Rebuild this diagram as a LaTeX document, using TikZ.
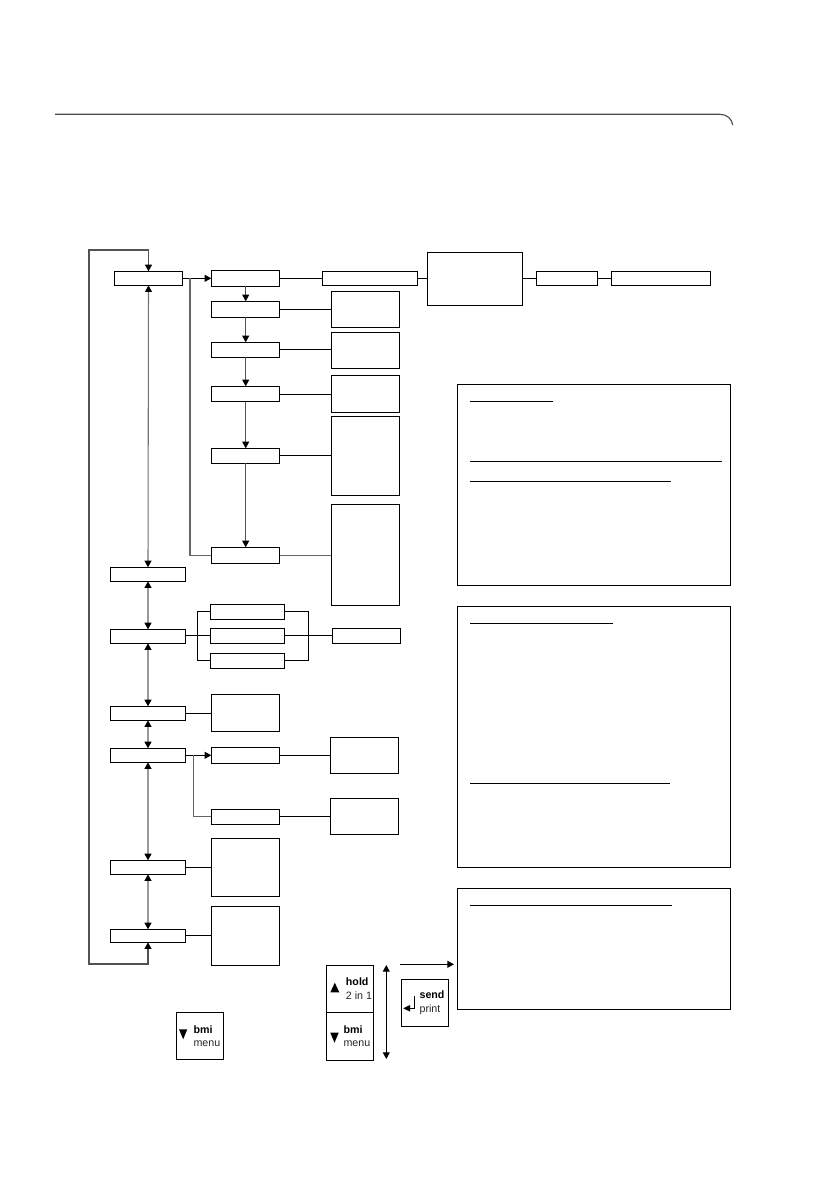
\documentclass[tikz,border=0pt]{standalone}
\usepackage{fontspec}
\setmainfont{Liberation Sans}
\usetikzlibrary{fit,arrows.meta}
\tikzset{
  x=0.75pt,y=-0.75pt,
  box/.style={draw=black,line width=0.85pt,inner sep=0pt,outer sep=0pt,fill=white},
  wire/.style={draw=black,line width=0.75pt},
  flow/.style={draw=black!68,line width=0.95pt,-{Triangle[length=5pt,width=5.2pt,black]}},
  upflow/.style={draw=black!55,line width=0.8pt,{Triangle[length=5pt,width=5.2pt,black]}-{Triangle[length=5pt,width=5.2pt,black]}},
  mainflow/.style={draw=black!40,line width=1.1pt,{Triangle[length=5pt,width=5.2pt,black]}-{Triangle[length=5pt,width=5.2pt,black]}},
  loopline/.style={draw=black!68,line width=1.05pt,{Triangle[length=5pt,width=5.2pt,black]}-{Triangle[length=5pt,width=5.2pt,black]}},
  branch/.style={draw=black!60,line width=0.85pt},
  rule/.style={draw=black,line width=0.8pt},
  keytop/.style={font=\bfseries\fontsize{8}{9}\selectfont,anchor=base west,inner sep=0pt},
  keybot/.style={font=\fontsize{8}{9}\selectfont,anchor=base west,inner sep=0pt,text=black!85},
  glyph/.style={fill=black,draw=none},
}
\newcommand{\bx}[5]{\node[box,fit={(#2,#3)(#4,#5)}] (#1) {};}
\begin{document}
\begin{tikzpicture}
\useasboundingbox[fill=white] (0,0) rectangle (838,1190);
% header
\draw[draw=black!70,line width=0.85pt] (55,114.3) -- (720,114.3) .. controls (727,114.3) and (732,119) .. (732.7,125);
% main column
\bx{mA}{114.3}{271.3}{182.7}{285.3}
\bx{mB}{110.3}{567.3}{185.7}{581.3}
\bx{mC}{110.3}{629.3}{185.7}{643.3}
\bx{mD}{110.3}{706.3}{185.7}{720.3}
\bx{mE}{110.3}{748.3}{185.7}{762.3}
\bx{mF}{110.3}{860.3}{185.7}{874.3}
\bx{mG}{110.3}{929.3}{185.7}{942.3}
% second column
\bx{aA}{211.3}{270.3}{279.7}{286.3}
\bx{aB}{211.3}{301.3}{279.7}{317.3}
\bx{aC}{211.3}{342.3}{279.7}{357.3}
\bx{aD}{211.3}{386.3}{279.7}{401.7}
\bx{aE}{211.3}{448.3}{279.7}{463.3}
\bx{aF}{211.3}{547.3}{279.7}{563.3}
% right of second column
\bx{bA}{322.3}{271.3}{417.3}{285.3}
\bx{bB}{331.3}{291.3}{399.3}{327.3}
\bx{bC}{331.3}{332.3}{399.3}{368.3}
\bx{bD}{331.3}{375.3}{399.3}{412.3}
\bx{bE}{331.3}{416.3}{399.3}{495.3}
\bx{bF}{331.3}{504.3}{399.3}{605.3}
\bx{cA}{427.3}{252.3}{522.3}{305.3}
\bx{cB}{536.3}{271.3}{597.7}{285.3}
\bx{cC}{611.3}{271.3}{710.7}{285.3}
% fork
\bx{fA}{210.3}{604.3}{284.3}{619.3}
\bx{fB}{210.3}{628.3}{284.3}{643.3}
\bx{fC}{210.3}{653.3}{284.3}{668.3}
\bx{fR}{332.3}{628.3}{400.3}{643.3}
% lower
\bx{gA}{211.3}{694.3}{279.3}{731.3}
\bx{hA}{211.3}{747.3}{279.3}{763.3}
\bx{hB}{211.3}{809.3}{279.3}{824.3}
\bx{hC}{330.3}{737.3}{398.3}{773.3}
\bx{hD}{330.3}{798.3}{398.3}{834.3}
\bx{iA}{211.3}{838.3}{279.3}{896.3}
\bx{iB}{211.3}{906.3}{279.3}{965.3}
% panels
\bx{pA}{457.3}{384.3}{730.7}{585.3}
\bx{pB}{457.3}{606.3}{730.7}{867.3}
\bx{pC}{457.3}{888.3}{730.7}{1009.3}
\draw[rule] (470,401.3) -- (553,401.3);
\draw[rule] (470,461.3) -- (722,461.3);
\draw[rule] (470,481.3) -- (671,481.3);
\draw[rule] (470,623.3) -- (613,623.3);
\draw[rule] (470,783.3) -- (670,783.3);
\draw[rule] (470,905.3) -- (672,905.3);
% connectors: main column
\draw[upflow] (mA.south) -- (mB.north);
\draw[mainflow] (mB.south) -- (mC.north);
\draw[mainflow] (mC.south) -- (mD.north);
\draw[mainflow] (mD.south) -- (mE.north);
\draw[mainflow] (mE.south) -- (mF.north);
\draw[mainflow] (mF.south) -- (mG.north);
\coordinate (loopT) at (89,250);
\coordinate (loopB) at (89,964);
\draw[loopline] (mA.north) |- (loopT) -- (loopB) -| (mG.south);
% second column
\draw[wire,-{Triangle[length=5pt,width=5.2pt,black]}] (mA.east) -- (mA.east -| aA.west);
\coordinate (brA) at (190,278.3);
\draw[branch] (brA) |- (aF.west);
\coordinate (colA) at (245.7,0);
\draw[flow] (aA.south -| colA) -- (aB.north -| colA);
\draw[flow] (aB.south -| colA) -- (aC.north -| colA);
\draw[flow] (aC.south -| colA) -- (aD.north -| colA);
\draw[flow] (aD.south -| colA) -- (aE.north -| colA);
\draw[flow] (aE.south -| colA) -- (aF.north -| colA);
% horizontals
\draw[wire] (aA.east) -- (aA.east -| bA.west);
\draw[wire] (bA.east) -- (bA.east -| cA.west);
\draw[wire] (cB.west) -- (cB.west -| cA.east);
\draw[wire] (cB.east) -- (cC.west);
\draw[wire] (aB.east) -- (aB.east -| bB.west);
\draw[wire] (aC.east) -- (aC.east -| bC.west);
\draw[wire] (aD.east) -- (aD.east -| bD.west);
\draw[wire] (aE.east) -- (aE.east -| bE.west);
\draw[branch] (aF.east) -- (aF.east -| bF.west);
% fork
\coordinate (forkL) at (197.3,636);
\coordinate (forkR) at (308.3,636);
\draw[wire] (fB.west) -- (fB.west -| mC.east);
\draw[wire] (fA.west) -| (forkL) |- (fC.west);
\draw[wire] (fA.east) -| (forkR) |- (fC.east);
\draw[wire] (fB.east) -- (fR.west);
% lower connectors
\draw[wire] (mD.east) -- (mD.east -| gA.west);
\draw[wire,-{Triangle[length=5pt,width=5.2pt,black]}] (mE.east) -- (mE.east -| hA.west);
\coordinate (brB) at (193.7,755.3);
\draw[branch] (brB) |- (hB.west);
\draw[wire] (hA.east) -- (hC.west);
\draw[wire] (hB.east) -- (hB.east -| hD.west);
\draw[wire] (mF.east) -- (mF.east -| iA.west);
\draw[wire] (mG.east) -- (mG.east -| iB.west);
% keys
\bx{kA}{176.3}{1012.3}{223.7}{1059.3}
\bx{kB}{326.3}{965.3}{373.7}{1012.7}
\bx{kC}{326.3}{1012.7}{373.7}{1060.3}
\bx{kD}{401.3}{979.3}{448.7}{1026.3}
\fill[glyph] (179,1029.3) -- (187.3,1029.3) -- (183.15,1039.3) -- cycle;
\node[keytop] (tA) at (193.3,1033.3) {bmi};
\node[keybot] (tB) at (193.3,1046.7) {menu};
\fill[glyph] (330.3,992.3) -- (339.3,992.3) -- (334.8,982.7) -- cycle;
\node[keytop] (tC) at (345.7,985) {hold};
\node[keybot] (tD) at (345.7,999.3) {2 in 1};
\fill[glyph] (330.3,1032.7) -- (338.7,1032.7) -- (334.5,1042.7) -- cycle;
\node[keytop] (tE) at (343.3,1033.3) {bmi};
\node[keybot] (tF) at (343.3,1046.7) {menu};
\node[keytop] (tG) at (419.3,998.7) {send};
\node[keybot] (tH) at (419.3,1012.3) {print};
\draw[draw=black,line width=0.6pt] (414.7,995.7) -- (414.7,1008.3) -- (409,1008.3);
\fill[glyph] (403.3,1008.3) -- (410,1005) -- (410,1011.6) -- cycle;
% free arrows
\coordinate (dUp) at (386.3,965);
\coordinate (dDn) at (386.3,1059);
\draw[wire,{Triangle[length=5pt,width=5.2pt,black]}-{Triangle[length=5pt,width=5.2pt,black]}] (dUp) -- (dDn);
\coordinate (sArr) at (399.7,964.3);
\coordinate (eArr) at (454,964.3);
\draw[wire,-{Triangle[length=5pt,width=5.2pt,black]}] (sArr) -- (eArr);
\end{tikzpicture}
\end{document}
